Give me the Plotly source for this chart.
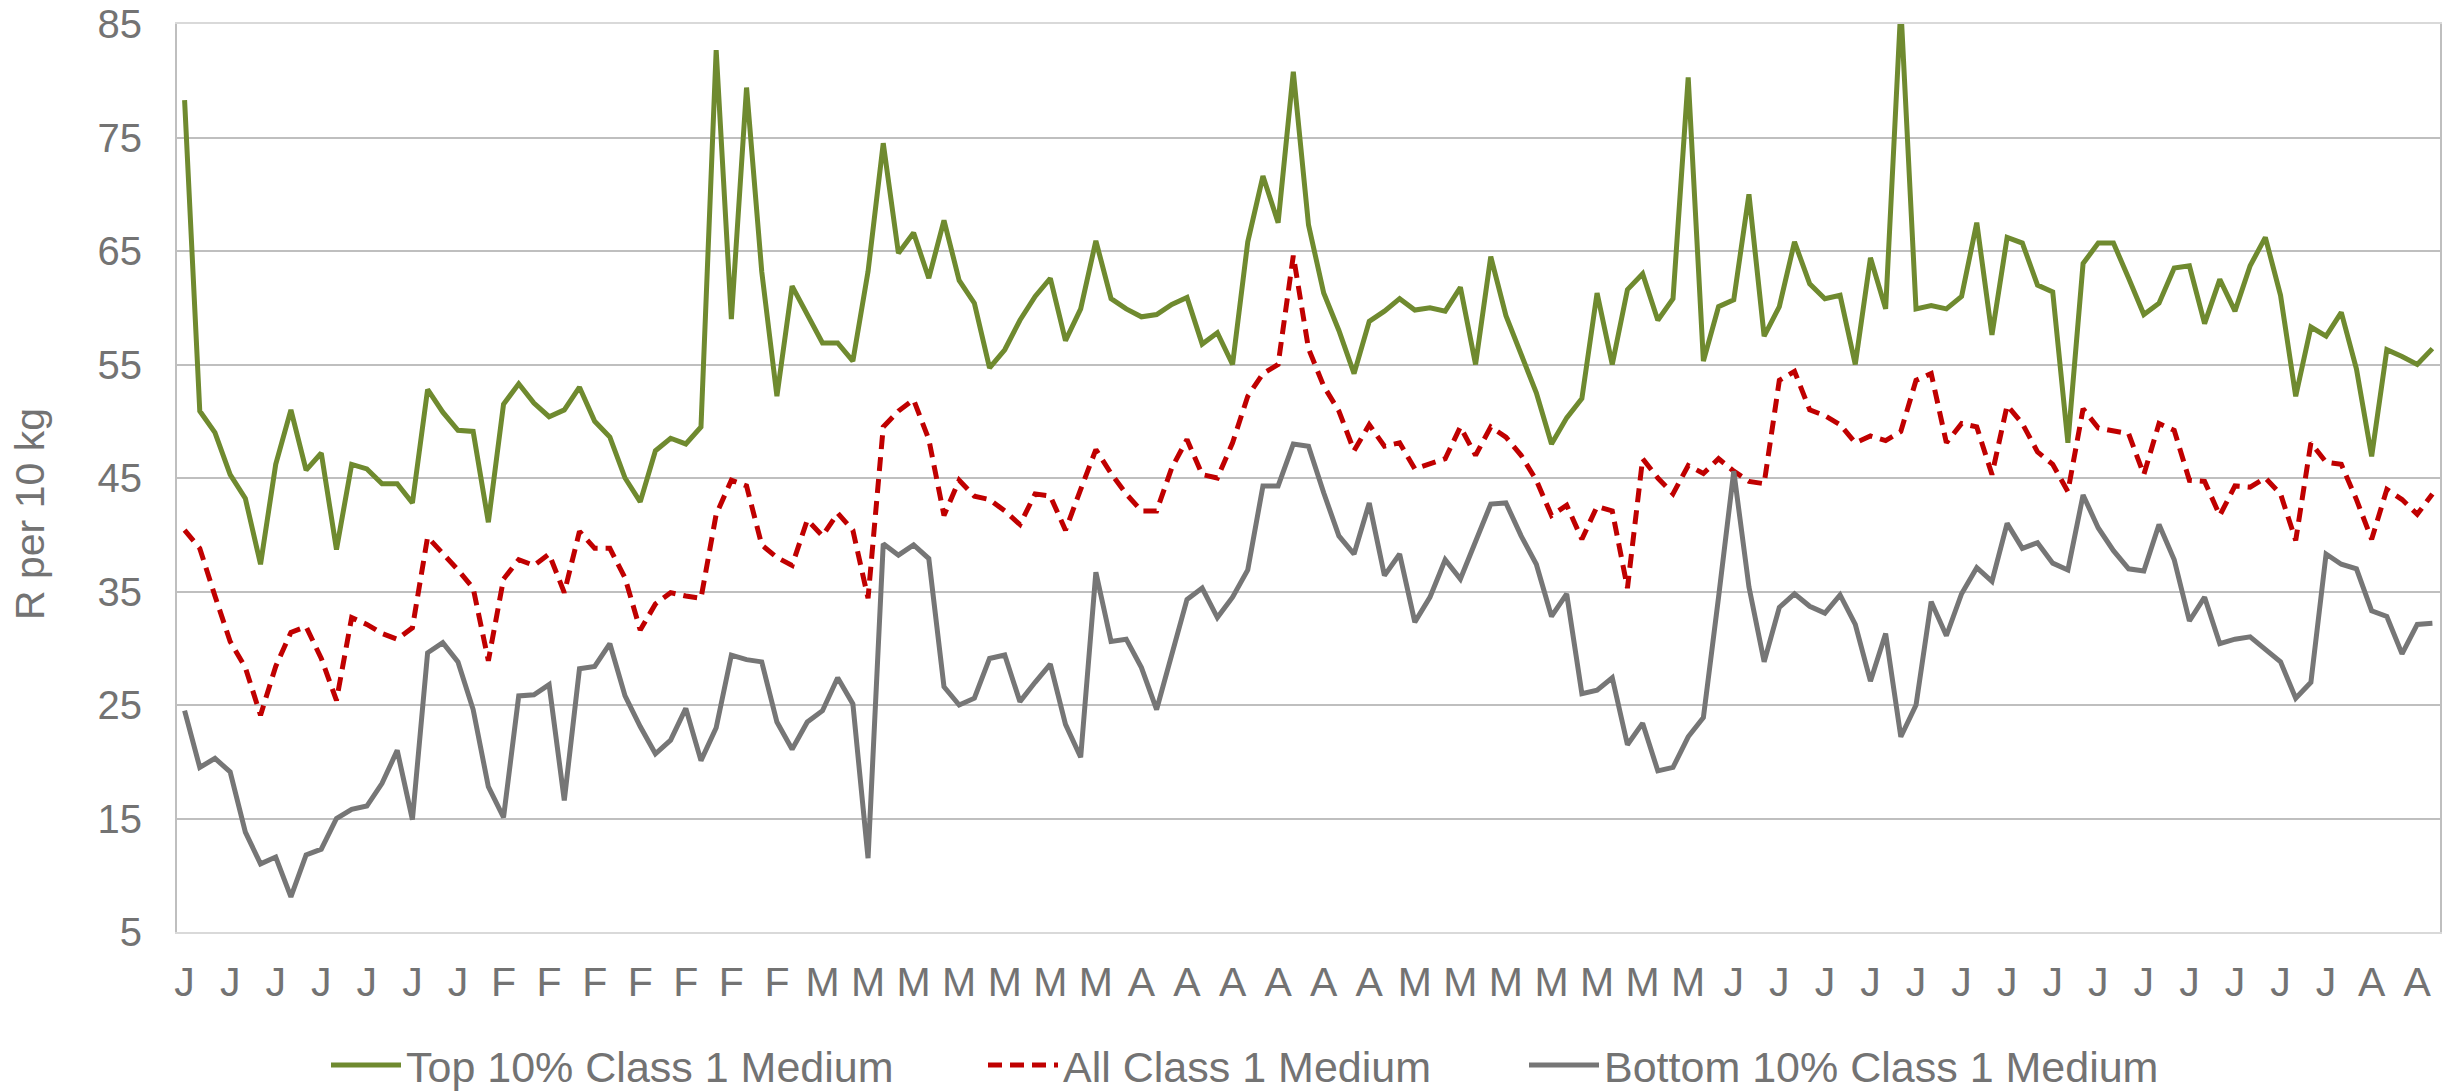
import plotly.graph_objects as go

tick_labels = (["J"] * 7 + ["F"] * 7 + ["M"] * 7 + ["A"] * 6 + ["M"] * 7 + ["J"] * 14 + ["A"] * 2)

top10 = [78.3, 50.9, 49.0, 45.3, 43.2, 37.4, 46.2, 51.0, 45.7, 47.2,
         38.7, 46.2, 45.8, 44.5, 44.5, 42.8, 52.8, 50.8, 49.2, 49.1,
         41.1, 51.5, 53.3, 51.6, 50.4, 51.0, 53.0, 50.0, 48.6, 45.0,
         42.9, 47.4, 48.5, 48.0, 49.5, 82.7, 59.0, 79.4, 63.2, 52.2,
         61.9, 59.5, 56.9, 56.9, 55.3, 63.2, 74.5, 64.8, 66.6, 62.6,
         67.7, 62.4, 60.4, 54.7, 56.3, 58.9, 61.0, 62.6, 57.1, 59.9,
         65.9, 60.8, 59.9, 59.2, 59.4, 60.3, 60.9, 56.8, 57.8, 55.0,
         65.8, 71.6, 67.5, 80.8, 67.3, 61.3, 58.0, 54.2, 58.8, 59.7,
         60.8, 59.8, 60.0, 59.7, 61.8, 55.0, 64.5, 59.3, 56.0, 52.5,
         48.0, 50.3, 52.0, 61.3, 55.0, 61.6, 63.0, 58.9, 60.8, 80.3,
         55.3, 60.1, 60.7, 70.0, 57.5, 60.1, 65.8, 62.1, 60.8, 61.1,
         55.0, 64.4, 59.9, 86.5, 59.9, 60.2, 59.9, 61.0, 67.5, 57.6,
         66.2, 65.7, 62.0, 61.4, 48.1, 63.9, 65.7, 65.7, 62.6, 59.4,
         60.4, 63.5, 63.7, 58.6, 62.5, 59.7, 63.7, 66.2, 61.1, 52.2,
         58.3, 57.5, 59.6, 54.6, 46.9, 56.3, 55.7, 55.0, 56.4]

all_class1 = [40.4, 38.8, 34.6, 30.6, 28.3, 24.1, 28.4, 31.4, 31.9, 29.1,
              25.4, 32.7, 32.1, 31.3, 30.8, 31.8, 39.8, 38.4, 36.9, 35.3,
              28.9, 36.1, 37.8, 37.3, 38.3, 34.9, 40.3, 38.8, 38.8, 36.2,
              31.6, 33.9, 34.9, 34.6, 34.4, 41.8, 44.8, 44.3, 39.1, 38.0,
              37.3, 41.3, 39.9, 41.9, 40.4, 34.4, 49.5, 50.9, 51.9, 48.4,
              41.7, 44.8, 43.4, 43.1, 42.1, 40.9, 43.6, 43.4, 40.4, 44.0,
              47.5, 45.4, 43.6, 42.1, 42.1, 45.9, 48.4, 45.3, 45.0, 48.1,
              52.2, 54.2, 55.0, 64.6, 56.4, 53.1, 50.9, 47.4, 49.7, 47.8,
              48.1, 45.8, 46.2, 46.7, 49.5, 47.0, 49.5, 48.6, 47.0, 44.8,
              41.7, 42.6, 39.6, 42.5, 42.1, 35.3, 46.7, 45.0, 43.6, 46.1,
              45.4, 46.7, 45.6, 44.7, 44.5, 53.6, 54.4, 51.0, 50.5, 49.7,
              48.1, 48.7, 48.3, 49.1, 53.6, 54.2, 48.1, 49.8, 49.5, 45.3,
              51.4, 49.8, 47.3, 46.2, 43.8, 51.1, 49.4, 49.2, 48.9, 45.3,
              49.8, 49.2, 44.8, 44.7, 41.7, 44.3, 44.2, 45.0, 43.6, 39.5,
              48.1, 46.4, 46.2, 43.1, 39.6, 44.0, 43.1, 41.8, 43.6]

bottom10 = [24.5, 19.5, 20.3, 19.1, 13.8, 11.0, 11.6, 8.1, 11.8, 12.3,
            15.0, 15.8, 16.1, 18.1, 21.0, 14.9, 29.6, 30.5, 28.8, 24.6,
            17.8, 15.1, 25.8, 25.9, 26.8, 16.6, 28.2, 28.4, 30.4, 25.8,
            23.1, 20.7, 21.9, 24.7, 20.1, 23.0, 29.4, 29.0, 28.8, 23.5,
            21.1, 23.5, 24.5, 27.4, 25.1, 11.5, 39.2, 38.2, 39.1, 37.9,
            26.6, 25.0, 25.6, 29.1, 29.4, 25.3, 27.0, 28.6, 23.3, 20.4,
            36.7, 30.6, 30.8, 28.3, 24.6, 29.3, 34.3, 35.3, 32.7, 34.5,
            36.9, 44.3, 44.3, 48.0, 47.8, 43.7, 39.9, 38.3, 42.8, 36.4,
            38.3, 32.3, 34.5, 37.8, 36.1, 39.4, 42.7, 42.8, 39.9, 37.4,
            32.8, 34.8, 26.0, 26.3, 27.4, 21.5, 23.4, 19.2, 19.5, 22.2,
            23.9, 34.5, 45.6, 35.4, 28.8, 33.6, 34.8, 33.7, 33.1, 34.7,
            32.1, 27.1, 31.3, 22.2, 25.0, 34.1, 31.1, 34.8, 37.1, 35.9,
            41.0, 38.8, 39.3, 37.5, 36.9, 43.5, 40.6, 38.6, 37.0, 36.8,
            40.9, 37.8, 32.4, 34.5, 30.4, 30.8, 31.0, 29.9, 28.8, 25.6,
            27.0, 38.3, 37.4, 37.0, 33.3, 32.8, 29.5, 32.1, 32.2]

series_names = ["Top 10% Class 1 Medium", "All Class 1 Medium", "Bottom 10% Class 1 Medium"]
y_title = "R per 10 kg"

n = len(top10)
x = list(range(n))
tick_positions = list(range(0, n, 3))[:len(tick_labels)]

FONT = "Liberation Sans, Arial, sans-serif"
TXT = "#737373"
W, H = 2460, 1092
ML, MR, MT, MB = 177, 20, 24, 160
PH = H - MT - MB
PW = W - ML - MR

fig = go.Figure()
fig.add_trace(go.Scatter(x=x, y=top10, mode="lines", name=series_names[0], legend="legend",
                         line=dict(color="#6F8A2F", width=5)))
fig.add_trace(go.Scatter(x=x, y=all_class1, mode="lines", name=series_names[1], legend="legend2",
                         line=dict(color="#C00000", width=5, dash="14px,8px")))
fig.add_trace(go.Scatter(x=x, y=bottom10, mode="lines", name=series_names[2], legend="legend3",
                         line=dict(color="#767676", width=5)))

def leg(xpix):
    return dict(orientation="h", xref="container", yref="container",
                x=xpix / W, xanchor="left", y=27 / H, yanchor="middle",
                font=dict(size=43, color=TXT), itemwidth=70,
                bgcolor="rgba(0,0,0,0)", borderwidth=0)

fig.update_layout(
    width=W, height=H,
    margin=dict(l=ML, r=MR, t=MT, b=MB, autoexpand=False),
    paper_bgcolor="white", plot_bgcolor="white",
    font=dict(family=FONT, size=41, color=TXT),
    showlegend=True,
    legend=leg(326), legend2=leg(983), legend3=leg(1524),
    xaxis=dict(range=[-0.5, n - 0.5], tickmode="array", tickvals=tick_positions,
               ticktext=tick_labels, showgrid=False, zeroline=False, automargin=False,
               showline=True, linecolor="#D9D9D9", linewidth=2, mirror=True,
               ticks="", ticklabelstandoff=13, tickfont=dict(size=41, color=TXT)),
    yaxis=dict(range=[5, 85], tickmode="array", tickvals=list(range(5, 86, 10)),
               showgrid=True, gridcolor="#BFBFBF", gridwidth=2, zeroline=False, automargin=False,
               showline=True, linecolor="#BFBFBF", linewidth=2, mirror=True,
               ticks="", ticklabelstandoff=25, ticklabeloverflow="allow",
               tickfont=dict(size=40, color=TXT)),
    annotations=[dict(text=y_title, textangle=-90, showarrow=False,
                      xref="paper", yref="paper",
                      x=(30 - ML) / PW, y=(MT + PH - 514) / PH,
                      xanchor="center", yanchor="middle",
                      font=dict(size=41, color=TXT))],
)

fig.write_html("out.html", config={"displayModeBar": False},
               post_script="document.body.style.margin='0';")
